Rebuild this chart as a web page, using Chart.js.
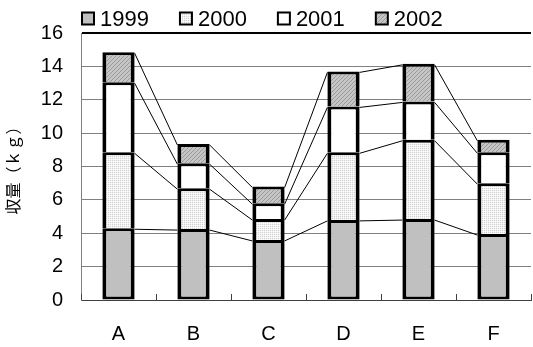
<!DOCTYPE html>
<html>
<head>
<meta charset="utf-8">
<script src="https://cdn.jsdelivr.net/npm/chart.js@4/dist/chart.umd.min.js"></script>
<style>
  html, body { margin: 0; padding: 0; background: #fff; }
  canvas { display: block; }
</style>
</head>
<body>
<canvas id="chart" width="533" height="347"></canvas>
<script>
// Harvest per plot, stacked by year
const categories = ['A', 'B', 'C', 'D', 'E', 'F'];
const seriesNames = ['1999', '2000', '2001', '2002'];
const harvest1999 = [4.3, 4.25, 3.6, 4.8, 4.85, 3.95];
const harvest2000 = [4.55, 2.45, 1.25, 4.05, 4.75, 3.05];
const harvest2001 = [4.2, 1.5, 0.95, 2.75, 2.3, 1.85];
const harvest2002 = [1.8, 1.15, 1.0, 2.1, 2.25, 0.75];
const yTickValues = [0, 2, 4, 6, 8, 10, 12, 14, 16];
const yTitle = '収量（ｋｇ）';

const FONT = '"Liberation Sans", Arial, sans-serif';

// small tiled fills for the hatched segments
function makePattern(size, painter) {
  const c = document.createElement('canvas');
  c.width = size; c.height = size;
  const g = c.getContext('2d');
  painter(g);
  return g.createPattern(c, 'repeat');
}
const dotFill = makePattern(2, g => {
  g.fillStyle = '#f3f3f3'; g.fillRect(0, 0, 2, 2);
  g.fillStyle = '#d2d2d2'; g.fillRect(0, 0, 1, 1);
  g.fillStyle = '#ffffff'; g.fillRect(1, 1, 1, 1);
});
const hatchFill = makePattern(4, g => {
  g.fillStyle = '#c6c6c6'; g.fillRect(0, 0, 4, 4);
  g.fillStyle = '#9a9a9a';
  for (let i = 0; i < 4; i++) g.fillRect(i, 3 - i, 1, 1);
});

const fills = ['#c0c0c0', dotFill, '#ffffff', hatchFill];
const values = [harvest1999, harvest2000, harvest2001, harvest2002];

// thin connector lines between the tops of matching segments
const seriesLines = {
  id: 'seriesLines',
  afterDatasetsDraw(chart) {
    const ctx = chart.ctx;
    ctx.save();
    ctx.strokeStyle = '#000';
    ctx.lineWidth = 1;
    chart.data.datasets.forEach((ds, di) => {
      const bars = chart.getDatasetMeta(di).data;
      for (let i = 0; i < bars.length - 1; i++) {
        const a = bars[i].getProps(['x', 'y', 'width'], true);
        const b = bars[i + 1].getProps(['x', 'y', 'width'], true);
        ctx.beginPath();
        ctx.moveTo(a.x + a.width / 2, a.y + 1);
        ctx.lineTo(b.x - b.width / 2, b.y + 1);
        ctx.stroke();
      }
    });
    ctx.restore();
  }
};

// short inward ticks between categories on the x axis
const categoryTicks = {
  id: 'categoryTicks',
  afterDraw(chart) {
    const xs = chart.scales.x;
    const bottom = chart.chartArea.bottom;
    const ctx = chart.ctx;
    ctx.save();
    ctx.strokeStyle = '#404040';
    ctx.lineWidth = 1;
    for (let i = 0; i <= categories.length; i++) {
      const x = Math.round(xs.getPixelForValue(i - 0.5)) + 0.5;
      ctx.beginPath();
      ctx.moveTo(x, bottom);
      ctx.lineTo(x, bottom - 6);
      ctx.stroke();
    }
    ctx.restore();
  }
};

// one-row legend above the plot
const legendRow = {
  id: 'legendRow',
  afterDraw(chart) {
    const ctx = chart.ctx;
    const y = 18.5;
    const box = 12;
    let x = chart.chartArea.left + 1;
    ctx.save();
    ctx.font = '22px ' + FONT;
    ctx.textBaseline = 'middle';
    chart.data.datasets.forEach(ds => {
      ctx.fillStyle = ds.backgroundColor;
      ctx.fillRect(x, y - box / 2, box, box);
      ctx.lineWidth = 2;
      ctx.strokeStyle = '#000';
      ctx.strokeRect(x, y - box / 2, box, box);
      ctx.fillStyle = '#000';
      ctx.fillText(ds.label, x + box + 6, y + 1);
      x += box + 6 + ctx.measureText(ds.label).width + 31;
    });
    ctx.restore();
  }
};

new Chart(document.getElementById('chart'), {
  type: 'bar',
  data: {
    labels: categories,
    datasets: seriesNames.map((name, i) => ({
      label: name,
      data: values[i],
      backgroundColor: fills[i],
      borderColor: '#000',
      borderWidth: { left: 4, right: 4, top: 3, bottom: 3 },
      borderSkipped: i === 0 ? false : 'start',
      barPercentage: 0.43,
      categoryPercentage: 1
    }))
  },
  options: {
    responsive: false,
    animation: false,
    devicePixelRatio: 1,
    layout: { padding: { top: 33, right: 2, left: 0, bottom: 0 } },
    plugins: { legend: { display: false }, tooltip: { enabled: false } },
    scales: {
      x: {
        stacked: true,
        offset: true,
        grid: { display: true, drawOnChartArea: false, drawTicks: false, color: 'rgba(0,0,0,0)' },
        border: { display: true, color: '#404040', width: 1 },
        ticks: { color: '#000', font: { family: FONT, size: 20 }, padding: 22 },
        afterFit(s) { s.height = 47; }
      },
      y: {
        stacked: true,
        min: 0,
        max: 16,
        afterBuildTicks(s) { s.ticks = yTickValues.map(v => ({ value: v })); },
        grid: {
          drawTicks: false,
          color: c => (c.tick && c.tick.value === 16 ? '#000' : '#808080'),
          lineWidth: c => (c.tick && c.tick.value === 16 ? 2 : 1)
        },
        border: { display: true, color: '#808080', width: 1 },
        ticks: { color: '#000', font: { family: FONT, size: 20 }, padding: 18 },
        title: {
          display: true,
          text: yTitle,
          color: '#000',
          font: { family: '"Noto Sans CJK JP", sans-serif', size: 16 },
          padding: { top: 3, bottom: 0 }
        },
        afterFit(s) { s.width = 81; }
      }
    }
  },
  plugins: [seriesLines, categoryTicks, legendRow]
});
</script>
</body>
</html>
